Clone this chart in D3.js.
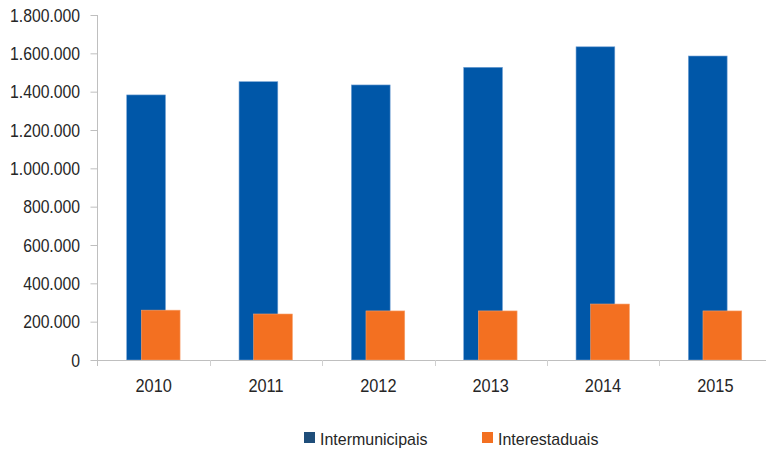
<!DOCTYPE html>
<html><head><meta charset="utf-8">
<script src="https://cdn.jsdelivr.net/npm/d3@7"></script>
<style>body{margin:0;background:#fff}text{font-family:"Liberation Sans",Arial,sans-serif}</style>
</head><body>
<svg id="c" width="766" height="450"></svg>
<script>
const years = ["2010","2011","2012","2013","2014","2015"];
const intermunicipais = [1383000, 1452000, 1435000, 1527000, 1634000, 1586000];
const interestaduais = [260000, 240000, 256000, 256000, 292000, 256000];
const yTicks = [0,200000,400000,600000,800000,1000000,1200000,1400000,1600000,1800000];
const seriesNames = ["Intermunicipais","Interestaduais"];
const colors = ["#0057A8","#F37021"];
const legendColors = ["#1F4E7A","#F37021"];

const svg = d3.select("#c");
const x0 = 97.5, x1 = 771.5, yTop = 15, yBot = 360;
const x = d3.scaleBand().domain(years).range([x0, x1]).padding(0);
const y = d3.scaleLinear().domain([0,1800000]).range([yBot, yTop]);
const bw = x.bandwidth();
const fmt = v => d3.format(",")(v).replace(/,/g,".");

// y axis
const ya = svg.append("g").attr("transform",`translate(${x0},0)`)
  .call(d3.axisLeft(y).tickValues(yTicks).tickSize(7).tickFormat(fmt));
ya.select(".domain").attr("stroke","#bfbfbf").attr("d",`M0,${yTop}V${yBot+6}`);
ya.selectAll(".tick line").attr("stroke","#bfbfbf");
ya.selectAll(".tick text").attr("fill","#262626").attr("font-size","17.5px")
  .attr("x",0).attr("dy","0.36em").attr("transform","translate(-17.5,0) scale(0.9,1)");

// bars
const blueX = 0.26, orX = 0.39, barW = 0.345;
svg.append("g").selectAll("rect").data(years).join("rect")
  .attr("x", (d)=>x(d)+bw*blueX).attr("width", bw*barW)
  .attr("y", (d,i)=>y(intermunicipais[i])).attr("height",(d,i)=>yBot-y(intermunicipais[i]))
  .attr("fill",colors[0]).attr("stroke","#6f9fd3").attr("stroke-width",0.6);
svg.append("g").selectAll("rect").data(years).join("rect")
  .attr("x", (d)=>x(d)+bw*orX).attr("width", bw*barW)
  .attr("y", (d,i)=>y(interestaduais[i])).attr("height",(d,i)=>yBot-y(interestaduais[i]))
  .attr("fill",colors[1]).attr("stroke","#f7a06c").attr("stroke-width",0.6);

// x axis
const xa = svg.append("g").attr("transform",`translate(0,${yBot})`)
  .call(d3.axisBottom(x).tickSize(0));
xa.select(".domain").attr("stroke","#bfbfbf").attr("d",`M${x0},0.5H766`);
xa.selectAll(".tick text").attr("fill","#262626").attr("font-size","19px")
  .attr("y",0).attr("dy",null).attr("transform","translate(0,31.5) scale(0.86,1)");
svg.append("g").selectAll("line").data(years.slice(1)).join("line")
  .attr("x1",d=>Math.round(x(d))+0.5).attr("x2",d=>Math.round(x(d))+0.5)
  .attr("y1",yBot).attr("y2",yBot+6).attr("stroke","#d0d0d0");

// legend
const lg = svg.append("g");
const lx = [304, 482];
seriesNames.forEach((n,i)=>{
  lg.append("rect").attr("x",lx[i]).attr("y",432).attr("width",11).attr("height",11).attr("fill",legendColors[i]);
  lg.append("text").attr("transform",`translate(${lx[i]+16},445) scale(0.93,1)`)
    .attr("font-size","17.2px").attr("fill","#262626").text(n);
});
</script>
</body></html>
